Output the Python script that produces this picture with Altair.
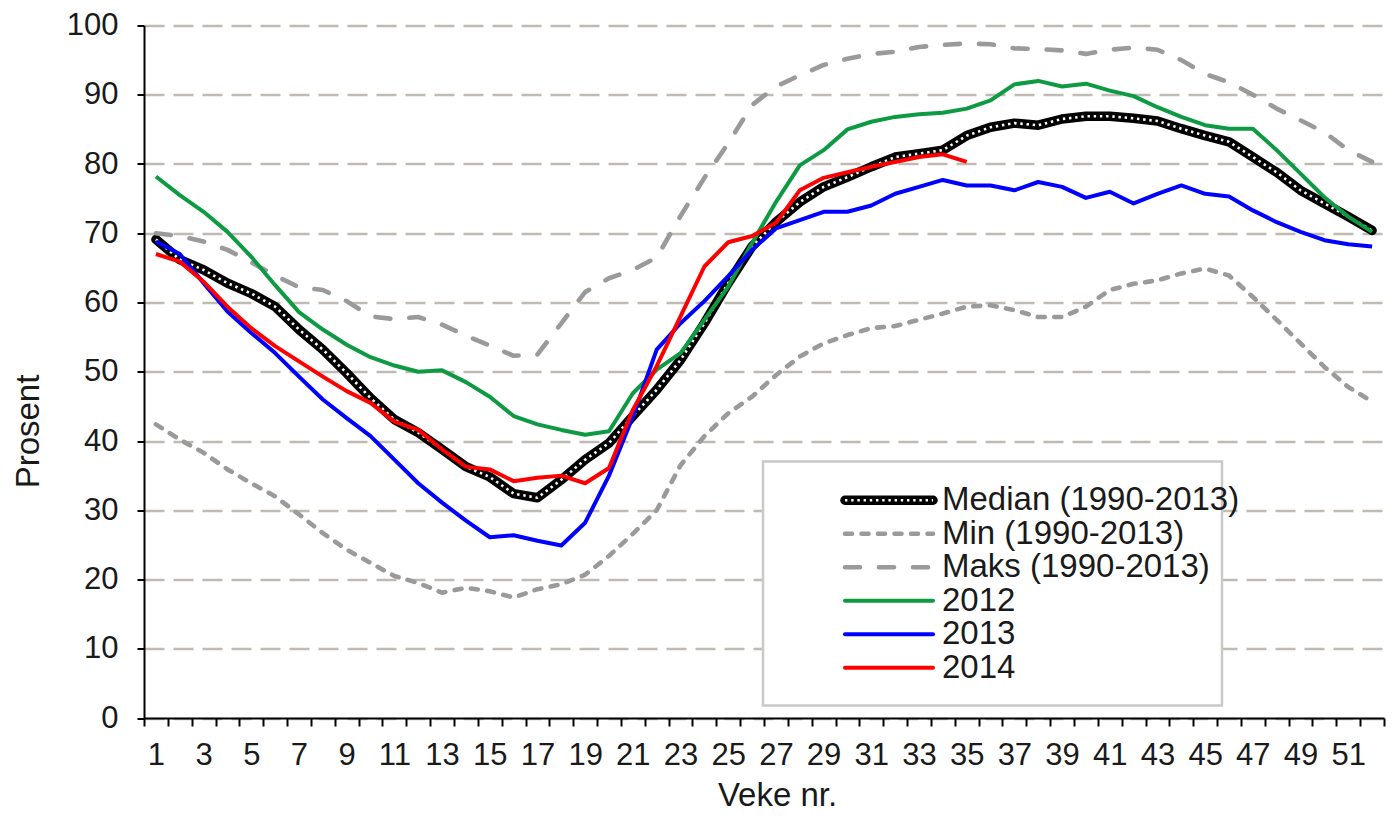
import altair as alt
import pandas as pd

weeks = list(range(1, 53))

median = [69.1, 66.2, 64.7, 62.8, 61.3, 59.4, 56.1, 53.2, 49.8, 46.2,
          43.1, 41.2, 38.8, 36.3, 34.8, 32.4, 31.8, 34.4, 37.3, 39.7,
          43.6, 47.4, 51.7, 57.0, 62.8, 68.1, 71.6, 74.5, 76.7, 78.1,
          79.6, 81.0, 81.5, 82.0, 84.1, 85.3, 85.9, 85.6, 86.5, 86.9,
          86.9, 86.6, 86.2, 85.1, 84.1, 83.2, 81.0, 78.8, 76.2, 74.3,
          72.4, 70.4]
vmin = [42.4, 40.2, 38.3, 35.9, 33.9, 32.0, 29.4, 26.7, 24.3, 22.4,
        20.5, 19.5, 18.1, 18.8, 18.3, 17.4, 18.6, 19.3, 20.7, 23.4,
        26.6, 30.0, 36.5, 40.7, 44.0, 46.4, 49.5, 52.2, 54.1, 55.3,
        56.3, 56.6, 57.5, 58.4, 59.4, 59.6, 58.9, 57.9, 57.9, 59.4,
        61.8, 62.7, 63.2, 64.2, 64.9, 63.9, 60.8, 57.5, 54.1, 50.7,
        47.8, 45.7]
vmaks = [70.0, 69.6, 68.8, 67.6, 65.8, 63.9, 62.2, 61.8, 60.2, 58.0,
         57.6, 57.9, 56.8, 55.2, 53.8, 52.3, 52.5, 57.0, 61.5, 63.5,
         64.7, 66.5, 72.5, 78.0, 83.0, 88.5, 91.2, 92.8, 94.3, 95.2,
         95.9, 96.2, 96.9, 97.2, 97.4, 97.3, 96.7, 96.6, 96.4, 95.9,
         96.5, 96.8, 96.5, 95.0, 93.0, 91.8, 90.0, 88.0, 86.3, 84.6,
         82.0, 80.3]
g2012 = [78.2, 75.5, 73.1, 70.2, 66.6, 62.5, 58.6, 56.1, 53.9, 52.1,
         50.9, 50.0, 50.2, 48.5, 46.4, 43.6, 42.4, 41.6, 40.9, 41.4,
         46.9, 50.3, 52.7, 57.5, 62.3, 68.6, 74.5, 79.8, 82.0, 85.0,
         86.1, 86.8, 87.2, 87.4, 88.0, 89.2, 91.5, 92.0, 91.2, 91.6,
         90.6, 89.8, 88.2, 86.8, 85.6, 85.1, 85.1, 82.0, 78.6, 75.2,
         72.4, 70.2]
b2013 = [68.8, 67.0, 62.8, 58.7, 55.6, 52.7, 49.3, 46.0, 43.3, 40.7,
         37.3, 33.9, 31.1, 28.5, 26.1, 26.4, 25.6, 24.9, 28.2, 35.0,
         43.5, 53.2, 57.0, 60.2, 63.8, 67.6, 70.7, 71.9, 73.1, 73.1,
         74.0, 75.7, 76.7, 77.7, 76.9, 76.9, 76.2, 77.4, 76.7, 75.1,
         76.0, 74.3, 75.7, 76.9, 75.7, 75.3, 73.3, 71.6, 70.2, 69.0,
         68.4, 68.1]
r2014 = [67.0, 65.9, 63.0, 59.4, 56.3, 53.7, 51.5, 49.3, 47.2, 45.5,
         42.8, 41.6, 38.8, 36.3, 35.9, 34.2, 34.7, 35.0, 33.9, 36.1,
         44.5, 50.8, 58.0, 65.2, 68.7, 69.6, 71.5, 76.2, 78.0, 78.8,
         79.6, 80.3, 81.0, 81.4, 80.3]

series_names = ["Median (1990-2013)", "Min (1990-2013)", "Maks (1990-2013)",
                "2012", "2013", "2014"]
series_values = [median, vmin, vmaks, g2012, b2013, r2014]

rows = []
for name, vals in zip(series_names, series_values):
    for w, v in zip(weeks, vals):
        rows.append({"series": name, "week": w, "value": v})
df = pd.DataFrame(rows)
leg_df = pd.DataFrame({"series": series_names})

FONT = "Liberation Sans"
TXT = "#1a1a1a"
GRAY = "#9a9a9a"

styles = {
    "Median (1990-2013)": dict(color="#000000", strokeWidth=9.5, strokeCap="round"),
    "Min (1990-2013)": dict(color=GRAY, strokeWidth=4.6, strokeDash=[7, 9.5], strokeCap="round"),
    "Maks (1990-2013)": dict(color=GRAY, strokeWidth=4.6, strokeDash=[15, 19], strokeCap="round"),
    "2012": dict(color="#0d9a43", strokeWidth=4),
    "2013": dict(color="#0000ff", strokeWidth=4),
    "2014": dict(color="#ff0000", strokeWidth=4),
}
dot_style = dict(color="#ffffff", strokeWidth=2.6, strokeDash=[2.4, 3.8])

tick_vals = [w - 0.5 for w in weeks] + [weeks[-1] + 0.5]

PLOT_W = 1240
PLOT_H = 692.5

x_scale = alt.Scale(domain=[0.5, 52.5], nice=False, zero=False)
y_scale = alt.Scale(domain=[0, 100], nice=False, zero=True)

x_axis = alt.Axis(
    values=tick_vals,
    labelExpr="((datum.value + 0.5) % 2 == 1 && datum.value < 52) ? '' + (datum.value + 0.5) : ''",
    labelOffset=11.9,
    labelOverlap=False,
    labelFlush=False,
    labelBound=False,
    grid=False,
    title="Veke nr.",
    titleX=633, titleY=94, titleBaseline="bottom", titleAlign="center",
    labelFont=FONT, labelFontSize=31, labelColor=TXT, labelPadding=14,
    titleFont=FONT, titleFontSize=33, titleColor=TXT, titleFontWeight="normal",
    domainColor="#000000", domainWidth=2,
    tickColor="#000000", tickWidth=2, tickSize=8,
)
y_axis = alt.Axis(
    values=list(range(0, 101, 10)),
    grid=True, gridColor="#bfbbb3", gridDash=[20, 9], gridWidth=2.5,
    title="Prosent",
    titleY=405.5, titleAlign="center",
    labelFont=FONT, labelFontSize=31, labelColor=TXT, labelPadding=19,
    titleFont=FONT, titleFontSize=33, titleColor=TXT, titleFontWeight="normal",
    titlePadding=21,
    domainColor="#000000", domainWidth=2,
    tickColor="#000000", tickWidth=2, tickSize=7,
)


def line_layer(name, style):
    return (
        alt.Chart(df)
        .transform_filter(alt.datum.series == name)
        .mark_line(strokeJoin="round", **style)
        .encode(
            x=alt.X("week:Q", scale=x_scale, axis=x_axis),
            y=alt.Y("value:Q", scale=y_scale, axis=y_axis),
        )
    )


main_layers = [line_layer(series_names[0], styles[series_names[0]]),
               line_layer(series_names[0], dot_style)]
for name in series_names[1:]:
    main_layers.append(line_layer(name, styles[name]))
main = alt.layer(*main_layers)

# legend
leg_y = alt.Scale(domain=series_names, range=[458, 659], padding=0)
box = (
    alt.Chart(pd.DataFrame({"k": [0]}))
    .mark_rect(fill="#ffffff", stroke="#c9c9c9", strokeWidth=2.5)
    .encode(x=alt.value(619), x2=alt.value(1078), y=alt.value(436), y2=alt.value(680))
)
leg_layers = [box]


def leg_rule(name, style):
    st = dict(style)
    st.setdefault("strokeCap", "round")
    return (
        alt.Chart(leg_df)
        .transform_filter(alt.datum.series == name)
        .mark_rule(**st)
        .encode(
            x=alt.value(701), x2=alt.value(789),
            y=alt.Y("series:N", scale=leg_y, axis=None),
        )
    )


leg_layers.append(leg_rule(series_names[0], styles[series_names[0]]))
leg_layers.append(leg_rule(series_names[0], dict(dot_style, strokeCap="butt")))
for name in series_names[1:]:
    leg_layers.append(leg_rule(name, styles[name]))
leg_layers.append(
    alt.Chart(leg_df)
    .mark_text(align="left", baseline="middle", font=FONT, fontSize=33, color=TXT)
    .encode(
        x=alt.value(798),
        y=alt.Y("series:N", scale=leg_y, axis=None),
        text="series:N",
    )
)
legend = alt.layer(*leg_layers)

chart = (
    alt.layer(main, legend)
    .resolve_scale(y="independent")
    .properties(width=PLOT_W, height=PLOT_H,
                autosize=alt.AutoSizeParams(type="none"),
                padding={"left": 136, "top": 17.5, "right": 5, "bottom": 95},
                background="#ffffff")
    .configure_view(stroke=None)
)

chart.save("out.html", embed_options={"renderer": "svg", "actions": False})
